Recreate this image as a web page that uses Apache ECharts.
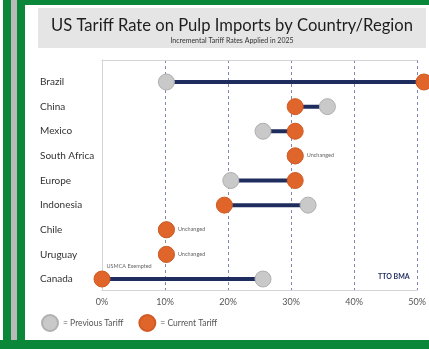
<!DOCTYPE html>
<html>
<head>
<meta charset="utf-8">
<script src="https://cdn.jsdelivr.net/npm/echarts@6/dist/echarts.min.js"></script>
<style>
html,body{margin:0;padding:0;background:#fff;}
#chart{width:429px;height:349px;}
</style>
</head>
<body>
<div id="chart"></div>
<script>
var categories = ['Brazil','China','Mexico','South Africa','Europe','Indonesia','Chile','Uruguay','Canada'];
var previousTariff = [10, 35, 25, 30, 20, 32, 10, 10, 25];
var currentTariff = [50, 30, 30, 30, 30, 19, 10, 10, 0];
var notes = ['', '', '', 'Unchanged', '', '', 'Unchanged', 'Unchanged', 'USMCA Exempted'];
var xTicks = [0, 10, 20, 30, 40, 50];
var titleText = 'US Tariff Rate on Pulp Imports by Country/Region';
var subtitleText = 'Incremental Tariff Rates Applied in 2025';
var sourceText = 'TTO BMA';

var FONT = 'Lato';
var GREEN = '#0b873a';
var NAVY = '#1f2d5e';
var ORANGE = '#e0652b';
var GREY = '#c9c9c9';

var chart = echarts.init(document.getElementById('chart'), null, {renderer: 'canvas'});

var connectors = categories.map(function (c, i) { return [previousTariff[i], currentTariff[i], i]; });
var prevData = categories.map(function (c, i) { return [previousTariff[i], i]; });
var curData = categories.map(function (c, i) {
  var n = notes[i];
  var item = {value: [currentTariff[i], i]};
  if (n) {
    item.label = {
      show: true,
      formatter: n,
      position: n === 'Unchanged' ? [20, 8] : [13, -4],
      align: 'left',
      verticalAlign: 'middle',
      fontSize: 5.5,
      color: '#666',
      fontFamily: FONT
    };
  }
  return item;
});

var option = {
  animation: false,
  backgroundColor: '#fff',
  graphic: [
    {type: 'rect', shape: {x: 3, y: 0, width: 8, height: 349}, style: {fill: GREEN}, z: 0},
    {type: 'rect', shape: {x: 11, y: 0, width: 6, height: 349}, style: {fill: '#b9b9b9'}, z: 0},
    {type: 'rect', shape: {x: 17, y: 0, width: 8, height: 349}, style: {fill: GREEN}, z: 0},
    {type: 'rect', shape: {x: 17, y: 0, width: 412, height: 5}, style: {fill: GREEN}, z: 0},
    {type: 'rect', shape: {x: 0, y: 340, width: 429, height: 9}, style: {fill: GREEN}, z: 0},
    {type: 'rect', shape: {x: 38, y: 8, width: 388, height: 40}, style: {fill: '#e5e5e5'}, z: 0},
    {type: 'text', left: 378, top: 273, style: {text: sourceText, fill: NAVY, font: 'bold 7px ' + FONT}, z: 5}
  ],
  title: {
    text: titleText,
    subtext: subtitleText,
    left: 227,
    textAlign: 'center',
    top: 12,
    itemGap: 3,
    textStyle: {fontFamily: FONT, fontSize: 16.6, fontWeight: 'normal', color: '#1e1e1e'},
    subtextStyle: {fontFamily: FONT, fontSize: 7, color: '#333'}
  },
  legend: {
    data: ['Previous Tariff', 'Current Tariff'],
    left: 36,
    top: 309,
    icon: 'circle',
    itemWidth: 16,
    itemHeight: 16,
    itemGap: 15,
    formatter: '= {name}',
    textStyle: {fontFamily: FONT, fontSize: 8.5, color: '#555'}
  },
  grid: [
    {left: 102, right: 5, top: 60, bottom: 59},
    {left: 102, right: 5, top: 82, bottom: 70}
  ],
  xAxis: [
    {
      gridIndex: 0, type: 'value', min: 0, max: 50, interval: 10, position: 'bottom',
      axisLine: {show: true, lineStyle: {color: '#d4d4d4', width: 1}},
      axisTick: {show: false},
      axisLabel: {
        margin: 8, fontFamily: FONT, fontSize: 9, color: '#555',
        formatter: function (v) { return xTicks.indexOf(v) >= 0 ? v + '%' : ''; }
      },
      splitLine: {show: true, lineStyle: {color: '#8088ad', type: [3, 3], width: 1}}
    },
    {
      gridIndex: 0, type: 'value', min: 0, max: 50, position: 'top',
      axisLine: {show: true, lineStyle: {color: '#d4d4d4', width: 1}},
      axisTick: {show: false}, axisLabel: {show: false}, splitLine: {show: false}
    },
    {
      gridIndex: 1, type: 'value', min: 0, max: 50, show: false
    }
  ],
  yAxis: [
    {
      gridIndex: 0, type: 'value', min: 0, max: 1, position: 'right',
      axisLine: {show: true, lineStyle: {color: '#d4d4d4', width: 1}},
      axisTick: {show: false}, axisLabel: {show: false}, splitLine: {show: false}
    },
    {
      gridIndex: 1, type: 'category', data: categories, inverse: true, boundaryGap: false,
      axisLine: {show: false}, axisTick: {show: false}, splitLine: {show: false},
      axisLabel: {align: 'left', margin: 62, fontFamily: FONT, fontSize: 10, color: '#333'}
    }
  ],
  series: [
    {
      type: 'custom', xAxisIndex: 2, yAxisIndex: 1, z: 2,
      data: connectors,
      renderItem: function (params, api) {
        var a = api.coord([api.value(0), api.value(2)]);
        var b = api.coord([api.value(1), api.value(2)]);
        return {type: 'line', shape: {x1: a[0], y1: a[1], x2: b[0], y2: b[1]}, style: {stroke: NAVY, lineWidth: 4}};
      }
    },
    {
      name: 'Previous Tariff', type: 'scatter', xAxisIndex: 2, yAxisIndex: 1, z: 3,
      symbolSize: 16, data: prevData,
      itemStyle: {color: GREY, borderColor: '#b0b0b0', borderWidth: 1, opacity: 1}
    },
    {
      name: 'Current Tariff', type: 'scatter', xAxisIndex: 2, yAxisIndex: 1, z: 4,
      symbolSize: 16, data: curData,
      itemStyle: {color: ORANGE, borderColor: '#d25a22', borderWidth: 1, opacity: 1}
    }
  ]
};
chart.setOption(option);
</script>
</body>
</html>
